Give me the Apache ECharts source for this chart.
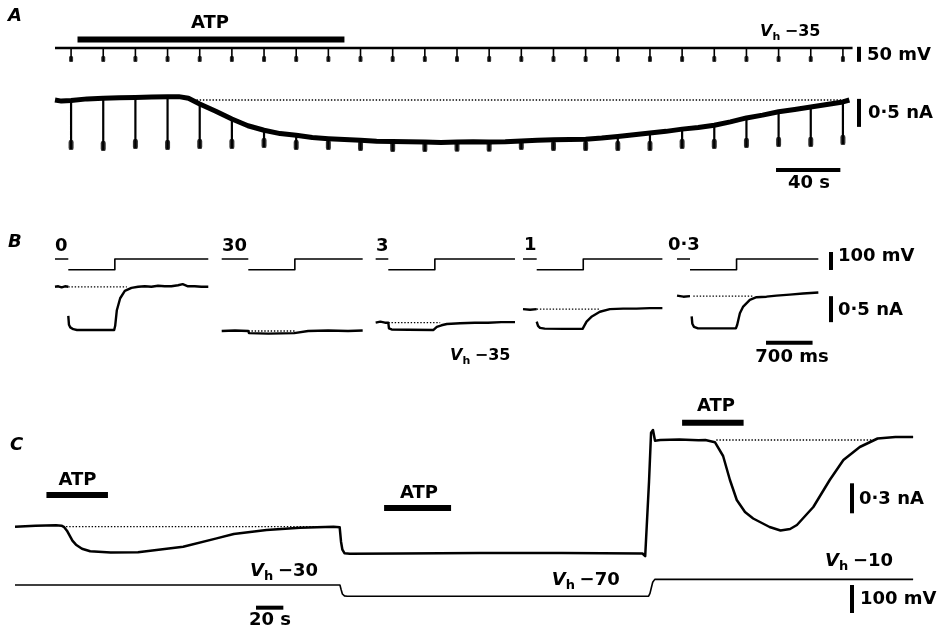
<!DOCTYPE html>
<html>
<head>
<meta charset="utf-8">
<script src="https://cdn.jsdelivr.net/npm/echarts@6/dist/echarts.min.js"></script>
<style>
  html, body { margin: 0; padding: 0; background: #fff; }
  #chart { width: 942px; height: 631px; }
</style>
</head>
<body>
<div id="chart"></div>
<script>
// ===================== DATA =====================
// Panel A: holding at -35 mV, brief hyperpolarising steps every 20 s
const aHoldingMV = -35;
const aStepMV = -78;
const aVoltageEnd = 496;                       // s
const aStepTimes = [10, 30, 50, 70, 90, 110, 130, 150, 170, 190, 210, 230, 250,
                    270, 290, 310, 330, 350, 370, 390, 410, 430, 450, 470, 490];
// holding current just before each step (nA)
const aBaseNA = [-0.01, 0.03, 0.045, 0.06, -0.07, -0.34, -0.54, -0.63, -0.69, -0.72, -0.74, -0.75, -0.75,
                 -0.75, -0.73, -0.71, -0.70, -0.65, -0.59, -0.52, -0.45, -0.32, -0.21, -0.125, -0.035];
// current reached during each step (nA)
const aStepNA = [-0.875, -0.893, -0.857, -0.875, -0.857, -0.857, -0.839, -0.875, -0.875, -0.893, -0.911, -0.911, -0.905,
                 -0.905, -0.875, -0.893, -0.893, -0.893, -0.893, -0.857, -0.857, -0.839, -0.821, -0.821, -0.786];
// holding current between steps
const aBetweenT  = [0, 4, 20, 40, 60, 77, 83, 100, 120, 140, 160, 180, 200, 220, 240, 260, 280, 300, 320, 340, 360, 380, 400, 420, 440, 460, 480, 494];
const aBetweenNA = [0.0, -0.02, 0.02, 0.04, 0.055, 0.06, 0.03, -0.2, -0.46, -0.6, -0.67, -0.705, -0.735, -0.745, -0.76, -0.745, -0.745, -0.72, -0.705, -0.68, -0.62, -0.56, -0.49, -0.39, -0.27, -0.17, -0.08, 0.0];
const aAtpPeriod = [14, 180];                  // s
const aControlSpan = [88, 494];                // s, control level 0 nA

// Panel B: 700-ms steps from -35 to -95 mV at several [ATP] (mM)
const bLabels = ['0', '30', '3', '1', '0·3'];
const bHoldingMV = -35;
const bStepMV = -95;
const bStepDur = 0.7;                           // s
const bSweepStart = [-0.2, -0.4, -0.19, -0.206, -0.195];
const bSweepEnd = [2.105, 1.72, 1.905, 1.89, 1.93];
const bCurrent0 = [[-0.2, 0.85], [-0.15, 0.86], [-0.1, 0.84], [-0.05, 0.86], [0, 0.85], [0, '-'],
  [0, 0.29], [0.01, 0.12], [0.03, 0.07], [0.075, 0.035], [0.13, 0.02], [0.4, 0.02], [0.69, 0.02],
  [0.705, 0.1], [0.73, 0.4], [0.78, 0.63], [0.85, 0.77], [0.95, 0.83], [1.05, 0.85], [1.15, 0.86],
  [1.25, 0.85], [1.35, 0.87], [1.45, 0.86], [1.55, 0.86], [1.65, 0.88], [1.72, 0.9], [1.8, 0.86],
  [1.9, 0.86], [2.0, 0.85], [2.105, 0.85]];
const bCurrent30 = [[-0.4, 0.0], [-0.2, 0.01], [0, 0.0], [0.01, -0.04], [0.3, -0.05], [0.69, -0.04],
  [0.71, -0.01], [0.9, 0.0], [1.2, 0.01], [1.5, 0.0], [1.72, 0.01]];
const bCurrent3 = [[-0.19, 0.16], [-0.12, 0.18], [-0.05, 0.16], [0, 0.16], [0.01, 0.05], [0.05, 0.03],
  [0.3, 0.025], [0.68, 0.02], [0.73, 0.08], [0.8, 0.11], [0.88, 0.135], [1.08, 0.15], [1.3, 0.16],
  [1.5, 0.16], [1.7, 0.17], [1.905, 0.17]];
const bCurrent1 = [[-0.206, 0.42], [-0.1, 0.41], [0, 0.42], [0, '-'], [0, 0.18], [0.02, 0.1], [0.05, 0.06],
  [0.12, 0.045], [0.4, 0.04], [0.69, 0.04], [0.705, 0.06], [0.75, 0.18], [0.83, 0.28], [0.95, 0.37],
  [1.1, 0.42], [1.3, 0.43], [1.5, 0.43], [1.7, 0.44], [1.89, 0.44]];
const bCurrent03 = [[-0.195, 0.68], [-0.1, 0.66], [0, 0.67], [0, '-'], [0.025, 0.28], [0.035, 0.14],
  [0.06, 0.08], [0.12, 0.05], [0.4, 0.05], [0.69, 0.05], [0.71, 0.12], [0.75, 0.34], [0.8, 0.47],
  [0.9, 0.6], [1.0, 0.65], [1.15, 0.66], [1.3, 0.68], [1.5, 0.7], [1.7, 0.72], [1.93, 0.74]];
const bCurrents = [bCurrent0, bCurrent30, bCurrent3, bCurrent1, bCurrent03];
const bControlStart = [0, 0, 0, 0, 0.05];
const bControlEnd = [0.88, 0.7, 0.78, 0.95, 0.95];
const bControlNA = [0.85, 0.0, 0.16, 0.42, 0.67];

// Panel C: ATP applied at holding potentials of -30, -70 and -10 mV
const cCurrent = [[0, 0.0], [15, 0.01], [30, 0.015], [34, 0.01], [36, -0.005], [38, -0.04], [40, -0.09],
  [42, -0.14], [44.6, -0.18], [49, -0.22], [55, -0.245], [70, -0.258], [90, -0.255], [99, -0.24],
  [123, -0.2], [147.5, -0.117], [160, -0.073], [184, -0.033], [208.5, -0.01], [233, 0.0], [237.5, -0.005],
  [238.5, -0.15], [239.5, -0.23], [241, -0.265], [245, -0.27], [282, -0.268], [340, -0.262], [400, -0.263],
  [459, -0.268], [461, -0.295], [462.3, -0.275], [463.8, 0.45], [465.3, 0.94], [466.7, 0.967], [468.2, 0.86],
  [472, 0.867], [486, 0.872], [500, 0.865], [505, 0.867], [512, 0.845], [518, 0.707], [523, 0.467],
  [528, 0.267], [534, 0.147], [540, 0.082], [552, -0.003], [560, -0.038], [567, -0.023], [572, 0.017],
  [584, 0.197], [596, 0.467], [606, 0.667], [618, 0.797], [631, 0.882], [644, 0.897], [657, 0.897]];
const cVoltage = [[0, -30], [237.7, -30], [238.5, -45], [239.5, -62], [241, -69], [243, -70],
  [463.5, -70], [464.5, -60], [465.5, -40], [466.5, -20], [468, -10], [657, -10]];
const cAtpStart = [23, 270, 488];
const cAtpEnd = [68, 319, 533];
const cControlStart = [35, 513];
const cControlEnd = [237, 630];
const cControlNA = [0.0, 0.867];

// ===================== LAYOUT =====================
const W = 942, H = 631;
const grids = [], xAxes = [], yAxes = [];
// Each frame is a full-canvas grid; x0/y0 = pixel of (0, 0), scales in px per unit.
function frame(x0, y0, pxPerX, pxPerY) {
  const i = grids.length;
  grids.push({ left: 0, top: 0, width: W, height: H, show: false, containLabel: false });
  xAxes.push({ type: 'value', gridIndex: i, min: -x0 / pxPerX, max: (W - x0) / pxPerX, show: false });
  yAxes.push({ type: 'value', gridIndex: i, min: -(H - y0) / pxPerY, max: y0 / pxPerY, show: false });
  return i;
}
const aV = frame(55, 37.5, 1.608, 0.3);
const aI = frame(55, 100, 1.608, 56);
const onsetX = [68.3, 248.3, 388.3, 536.7, 690];
const bV = onsetX.map(x => frame(x, 252.7, 66.5, 0.18));
const bI = onsetX.map(x => frame(x, 331, 66.5, 52));
const cI = frame(15, 526.7, 1.367, 100);
const cV = frame(15, 576.6, 1.367, 0.28);

const INK = '#000';
function trace(g, data, width, z) {
  return {
    type: 'line', xAxisIndex: g, yAxisIndex: g, data,
    symbol: 'none', showSymbol: false, silent: true, animation: false, connectNulls: false,
    lineStyle: { color: INK, width, cap: 'butt', join: 'round' }, z: z || 3
  };
}
function dotted(g, data) {
  const s = trace(g, data, 1.3, 2);
  s.lineStyle.type = [1.4, 1.8];
  return s;
}
function blobs(g, data, size, offset) {
  return {
    type: 'scatter', xAxisIndex: g, yAxisIndex: g, data, silent: true, animation: false,
    symbol: 'roundRect', symbolSize: size, symbolOffset: offset,
    itemStyle: { color: INK }, z: 4
  };
}
function bar(g, p0, p1, width) {
  return trace(g, [p0, p1], width || 4, 5);
}

const series = [];

// ---- A ----
series.push(trace(aV, [[0, aHoldingMV], [aVoltageEnd, aHoldingMV]], 2.6));
const aTicks = [];
aStepTimes.forEach(t => { aTicks.push([t, aHoldingMV], [t, aStepMV], [t, '-']); });
series.push(trace(aV, aTicks, 1.6));
series.push(blobs(aV, aStepTimes.map(t => [t, aStepMV]), [4, 6], [0, -2]));

const aMain = aStepTimes.map((t, i) => [t, aBaseNA[i]])
  .concat(aBetweenT.map((t, i) => [t, aBetweenNA[i]]))
  .sort((p, q) => p[0] - q[0]);
series.push(trace(aI, aMain, 5));
const aSpikes = [];
aStepTimes.forEach((t, i) => { aSpikes.push([t, aBaseNA[i]], [t, aStepNA[i]], [t, '-']); });
series.push(trace(aI, aSpikes, 2.2));
series.push(blobs(aI, aStepTimes.map((t, i) => [t, aStepNA[i]]), [5, 10], [0, -4]));
series.push(dotted(aI, [[aControlSpan[0], 0], [aControlSpan[1], 0]]));
series.push(bar(aI, [aAtpPeriod[0], 1.08], [aAtpPeriod[1], 1.08], 6));
// scale bars: 50 mV, 0.5 nA, 40 s
series.push(bar(aV, [500, -31], [500, -31 - 50]));
series.push(bar(aI, [500, 0.02], [500, 0.02 - 0.5]));
series.push(bar(aI, [448.4, -1.25], [448.4 + 40, -1.25]));

// ---- B ----
bLabels.forEach((lab, i) => {
  const s = bSweepStart[i], e = bSweepEnd[i];
  series.push(trace(bV[i], [[s, bHoldingMV], [0, bHoldingMV], [0, '-'], [0, bStepMV], [bStepDur, bStepMV],
    [bStepDur, bHoldingMV], [e, bHoldingMV]], 1.6));
  series.push(trace(bI[i], bCurrents[i], 2.4));
  series.push(dotted(bI[i], [[bControlStart[i], bControlNA[i]], [bControlEnd[i], bControlNA[i]]]));
});
// scale bars: 100 mV, 0.5 nA, 700 ms
series.push(bar(bV[4], [2.12, 4], [2.12, 4 - 100]));
series.push(bar(bI[4], [2.12, 0.67], [2.12, 0.67 - 0.5]));
series.push(bar(bI[4], [1.143, -0.225], [1.143 + 0.7, -0.225]));

// ---- C ----
series.push(trace(cI, cCurrent, 2.5));
series.push(trace(cV, cVoltage, 1.6));
cControlStart.forEach((s, i) => series.push(dotted(cI, [[s, cControlNA[i]], [cControlEnd[i], cControlNA[i]]])));
const cAtpLevel = [0.317, 0.187, 1.04];
cAtpStart.forEach((s, i) => series.push(bar(cI, [s, cAtpLevel[i]], [cAtpEnd[i], cAtpLevel[i]], 6)));
// scale bars: 0.3 nA, 100 mV, 20 s
series.push(bar(cI, [612.3, 0.434], [612.3, 0.434 - 0.3]));
series.push(bar(cV, [612.3, -30], [612.3, -30 - 100]));
series.push(bar(cV, [176.3, -111], [176.3 + 20, -111]));

// ===================== TEXT =====================
const FONT = '"DejaVu Sans", "Liberation Sans", sans-serif';
function label(x, y, text, opts) {
  const st = Object.assign({
    text, fill: INK, font: 'bold 18px ' + FONT,
    align: 'left', verticalAlign: 'middle', textAlign: 'left', textVerticalAlign: 'middle'
  }, opts || {});
  if (st.align) st.textAlign = st.align;
  return { type: 'text', x, y, silent: true, z: 10, style: st };
}
function centered(x, y, text, opts) {
  return label(x, y, text, Object.assign({ align: 'center' }, opts || {}));
}
function vh(x, y, value, size) {
  return [
    label(x, y, 'V', { font: 'italic bold ' + size + 'px ' + FONT }),
    label(x + size * 0.78, y + size * 0.3, 'h', { font: 'bold ' + Math.round(size * 0.7) + 'px ' + FONT }),
    label(x + size * 1.55, y, value, { font: 'bold ' + size + 'px ' + FONT })
  ];
}
const panelFont = { font: 'italic bold 18px ' + FONT };
const texts = [
  label(8, 16, 'A', panelFont),
  centered(210, 23, 'ATP'),
  ...vh(760, 32, '−35', 16),
  label(867, 55, '50 mV'),
  label(868, 113, '0·5 nA'),
  centered(809, 183.5, '40 s'),

  label(8, 242, 'B', panelFont),
  label(55, 246.5, bLabels[0]),
  label(222, 246.5, bLabels[1]),
  label(376, 246.5, bLabels[2]),
  label(524, 245, bLabels[3]),
  label(668, 245, bLabels[4]),
  label(838, 256.5, '100 mV'),
  label(838, 310, '0·5 nA'),
  centered(792, 357.5, '700 ms'),
  ...vh(450, 356, '−35', 16),

  label(10, 445, 'C', panelFont),
  centered(77.5, 480, 'ATP'),
  centered(419, 493, 'ATP'),
  centered(716, 406.7, 'ATP'),
  ...vh(250, 571.5, '−30', 18),
  ...vh(551.7, 580, '−70', 18),
  ...vh(825, 561.7, '−10', 18),
  label(859, 499, '0·3 nA'),
  label(860, 599, '100 mV'),
  centered(270, 620.5, '20 s')
];

const chart = echarts.init(document.getElementById('chart'), null, { renderer: 'canvas' });
chart.setOption({
  backgroundColor: '#fff',
  animation: false,
  grid: grids,
  xAxis: xAxes,
  yAxis: yAxes,
  series,
  graphic: { elements: texts }
});
</script>
</body>
</html>
